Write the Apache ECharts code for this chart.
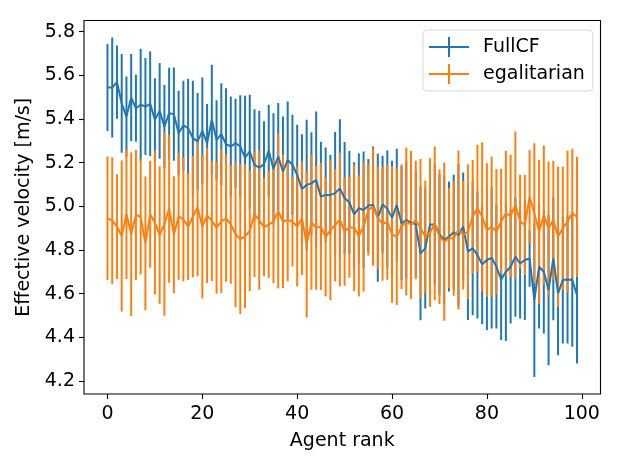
<!DOCTYPE html>
<html>
<head>
<meta charset="utf-8">
<script src="https://cdn.jsdelivr.net/npm/echarts@6/dist/echarts.min.js"></script>
<style>
html,body{margin:0;padding:0;background:#fff;}
#chart{width:623px;height:467px;}
</style>
</head>
<body>
<div id="chart"></div>
<script>
// ---- data ----
const seriesNames = ["FullCF", "egalitarian"];
const xTicks = [0, 20, 40, 60, 80, 100];
const yTicks = [4.2, 4.4, 4.6, 4.8, 5.0, 5.2, 5.4, 5.6, 5.8];

const fullcfMean = [
5.544,5.544,5.569,5.471,5.411,5.498,5.449,5.465,5.457,5.469,5.396,5.437,5.365,5.426,5.422,5.335,5.370,5.358,5.312,5.297,
5.345,5.289,5.396,5.304,5.330,5.284,5.274,5.289,5.274,5.223,5.251,5.190,5.177,5.193,5.254,5.171,5.228,5.159,5.212,5.190,
5.144,5.079,5.098,5.105,5.121,5.044,5.052,5.052,5.060,5.082,5.037,5.018,4.963,4.991,4.983,5.003,5.006,4.948,5.009,4.988,
4.948,5.006,4.922,4.937,4.926,4.917,4.784,4.807,4.917,4.917,4.871,4.845,4.861,4.881,4.868,4.907,4.792,4.807,4.777,4.734,
4.754,4.764,4.723,4.665,4.700,4.723,4.769,4.738,4.754,4.761,4.570,4.723,4.700,4.616,4.761,4.601,4.662,4.665,4.662,4.593];

const fullcfErr = [
0.199,0.229,0.168,0.226,0.183,0.199,0.153,0.257,0.222,0.240,0.191,0.219,0.191,0.209,0.214,0.194,0.205,0.226,0.263,0.222,
0.245,0.179,0.252,0.182,0.234,0.257,0.229,0.203,0.234,0.283,0.260,0.255,0.260,0.196,0.211,0.255,0.245,0.252,0.268,0.229,
0.229,0.251,0.298,0.234,0.313,0.252,0.217,0.183,0.280,0.317,0.257,0.235,0.239,0.252,0.268,0.213,0.268,0.294,0.222,0.268,
0.260,0.257,0.260,0.268,0.275,0.245,0.306,0.275,0.291,0.275,0.275,0.291,0.252,0.263,0.326,0.248,0.313,0.306,0.291,0.275,
0.321,0.324,0.283,0.278,0.317,0.260,0.275,0.252,0.275,0.130,0.352,0.283,0.283,0.344,0.283,0.283,0.291,0.294,0.306,0.313];

const egalMean = [
4.945,4.934,4.907,4.864,4.965,4.872,4.960,4.952,4.830,4.963,4.925,4.868,4.919,4.989,4.870,4.954,4.940,4.907,4.952,4.994,
4.907,4.957,4.933,4.902,4.930,4.945,4.917,4.872,4.850,4.862,4.887,4.963,4.936,4.905,4.916,4.930,4.978,4.930,4.937,4.930,
4.907,4.945,4.826,4.927,4.901,4.907,4.859,4.891,4.914,4.939,4.884,4.904,4.901,4.864,4.907,4.983,4.997,4.946,4.920,4.928,
4.870,4.861,4.907,4.930,4.914,4.937,4.899,4.861,4.879,4.922,4.861,4.838,4.853,4.853,4.891,4.868,4.884,4.952,4.991,4.952,
4.891,4.907,4.884,4.930,4.968,4.956,5.006,4.930,4.914,5.044,4.968,4.884,4.960,4.899,4.937,4.861,4.899,4.930,4.968,4.952];

const egalErr = [
0.283,0.291,0.240,0.346,0.298,0.375,0.298,0.265,0.306,0.245,0.329,0.315,0.420,0.339,0.268,0.291,0.283,0.245,0.278,0.315,
0.329,0.309,0.275,0.303,0.329,0.291,0.272,0.333,0.344,0.329,0.275,0.287,0.318,0.226,0.245,0.283,0.355,0.306,0.280,0.206,
0.275,0.260,0.336,0.309,0.283,0.291,0.272,0.321,0.257,0.306,0.248,0.232,0.289,0.277,0.298,0.209,0.269,0.235,0.261,0.265,
0.312,0.313,0.286,0.339,0.339,0.271,0.318,0.257,0.341,0.352,0.309,0.362,0.229,0.263,0.364,0.249,0.309,0.260,0.291,0.341,
0.306,0.321,0.287,0.242,0.286,0.280,0.336,0.214,0.229,0.214,0.321,0.329,0.318,0.306,0.271,0.321,0.283,0.324,0.295,0.275];

const ranks = fullcfMean.map((_, i) => i);

// ---- build ----
const BLUE = '#1f77b4', ORANGE = '#ff7f0e';
const FONT = 'DejaVu Sans';

function errData(mean, err) {
  return ranks.map((r, i) => [r, mean[i] - err[i], mean[i] + err[i]]);
}
function errRender(color) {
  return function (params, api) {
    const p1 = api.coord([api.value(0), api.value(1)]);
    const p2 = api.coord([api.value(0), api.value(2)]);
    return {
      type: 'line',
      shape: { x1: p1[0], y1: p1[1], x2: p2[0], y2: p2[1] },
      style: { stroke: color, lineWidth: 2 }
    };
  };
}

const chart = echarts.init(document.getElementById('chart'), null, { renderer: 'canvas' });
const legendIcon = 'path://M0,9L40,9L40,11L0,11Z M19,0L21,0L21,20L19,20Z';

chart.setOption({
  animation: false,
  backgroundColor: '#fff',
  textStyle: { fontFamily: FONT },
  grid: { left: 84, right: 22.5, top: 20.5, bottom: 73, show: true, borderColor: '#000', borderWidth: 1.1, backgroundColor: 'transparent' },
  legend: {
    left: 423, top: 30, orient: 'vertical',
    itemWidth: 40, itemHeight: 20, itemGap: 7,
    padding: [7, 8, 7, 6],
    backgroundColor: '#fff', borderColor: '#d6d6d6', borderWidth: 1, borderRadius: 4,
    textStyle: { fontFamily: FONT, fontSize: 19, color: '#000', padding: [0, 0, 0, 9] },
    data: [ { name: seriesNames[0], icon: legendIcon }, { name: seriesNames[1], icon: legendIcon } ]
  },
  xAxis: {
    type: 'value', min: -4.95, max: 103.95,
    name: 'Agent rank', nameLocation: 'middle', nameGap: 38,
    nameTextStyle: { fontFamily: FONT, fontSize: 19, color: '#000' },
    axisLine: { show: false, onZero: false },
    splitLine: { show: false },
    axisTick: { show: true, length: 5, lineStyle: { color: '#000', width: 1.1 }, customValues: xTicks },
    axisLabel: { fontFamily: FONT, fontSize: 19, color: '#000', margin: 11, customValues: xTicks, formatter: v => String(v) }
  },
  yAxis: {
    type: 'value', min: 4.140, max: 5.851,
    name: 'Effective velocity [m/s]', nameLocation: 'middle', nameGap: 41,
    nameTextStyle: { fontFamily: FONT, fontSize: 19, color: '#000' },
    axisLine: { show: false, onZero: false },
    splitLine: { show: false },
    axisTick: { show: true, length: 5, lineStyle: { color: '#000', width: 1.1 }, customValues: yTicks },
    axisLabel: { fontFamily: FONT, fontSize: 19, color: '#000', margin: 9, customValues: yTicks, formatter: v => v.toFixed(1) }
  },
  series: [
    { name: 'FullCF_err', type: 'custom', z: 1, renderItem: errRender(BLUE), data: errData(fullcfMean, fullcfErr), encode: { x: 0, y: [1, 2] }, silent: true, clip: true },
    { name: 'egalitarian_err', type: 'custom', z: 2, renderItem: errRender(ORANGE), data: errData(egalMean, egalErr), encode: { x: 0, y: [1, 2] }, silent: true, clip: true },
    { name: seriesNames[0], type: 'line', z: 3, color: BLUE, showSymbol: false, symbol: 'none', lineStyle: { width: 2, color: BLUE }, data: ranks.map((r, i) => [r, fullcfMean[i]]) },
    { name: seriesNames[1], type: 'line', z: 4, color: ORANGE, showSymbol: false, symbol: 'none', lineStyle: { width: 2, color: ORANGE }, data: ranks.map((r, i) => [r, egalMean[i]]) }
  ]
});
</script>
</body>
</html>
